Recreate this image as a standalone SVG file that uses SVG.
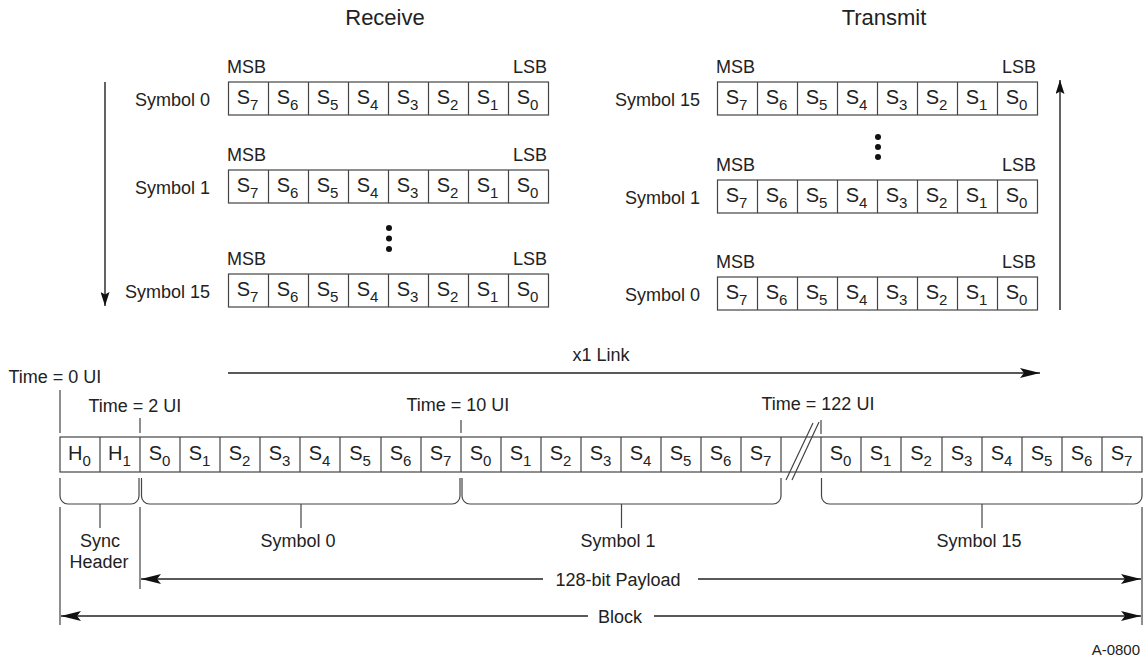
<svg xmlns="http://www.w3.org/2000/svg" width="1148" height="661" viewBox="0 0 1148 661">
<style>
text{font-family:"Liberation Sans",Arial,Helvetica,sans-serif;font-size:18px;fill:#222}
.t{font-size:22px;text-anchor:middle}
.c{font-size:20px;text-anchor:middle}
.sub{font-size:15px}
.m{text-anchor:middle}
.e{text-anchor:end}
.sm{font-size:15px}
.box{fill:#fff;stroke:#444;stroke-width:1.2}
.ln{stroke:#444;stroke-width:1.2;fill:none}
.ar{stroke:#222;stroke-width:1.4;fill:none}
</style>
<defs>
<marker id="ah" viewBox="0 0 20 10" refX="20" refY="5" markerWidth="20" markerHeight="10" markerUnits="userSpaceOnUse" orient="auto-start-reverse">
<path d="M0,0 L20,5 L0,10 L4,5 Z" fill="#111"/>
</marker>
<marker id="ahs" viewBox="0 0 14 9" refX="14" refY="4.5" markerWidth="14" markerHeight="9" markerUnits="userSpaceOnUse" orient="auto-start-reverse">
<path d="M0,0 L14,4.5 L0,9 L2.5,4.5 Z" fill="#111"/>
</marker>
</defs>

<g id="titles">
<text class="t" x="385" y="25">Receive</text>
<text class="t" x="884" y="25">Transmit</text>
</g>

<g id="rx-sym0">
<text class="e" x="210" y="106">Symbol 0</text>
<text x="227" y="73">MSB</text>
<text class="e" x="547" y="73">LSB</text>
<g transform="translate(228.5,82)">
<rect class="box" width="320" height="33"/>
<path class="ln" d="M40,0v33M80,0v33M120,0v33M160,0v33M200,0v33M240,0v33M280,0v33"/>
<text class="c" x="19" y="22">S<tspan class="sub" dy="6">7</tspan></text>
<text class="c" x="59" y="22">S<tspan class="sub" dy="6">6</tspan></text>
<text class="c" x="99" y="22">S<tspan class="sub" dy="6">5</tspan></text>
<text class="c" x="139" y="22">S<tspan class="sub" dy="6">4</tspan></text>
<text class="c" x="179" y="22">S<tspan class="sub" dy="6">3</tspan></text>
<text class="c" x="219" y="22">S<tspan class="sub" dy="6">2</tspan></text>
<text class="c" x="259" y="22">S<tspan class="sub" dy="6">1</tspan></text>
<text class="c" x="299" y="22">S<tspan class="sub" dy="6">0</tspan></text>
</g>
</g>

<g id="rx-sym1">
<text class="e" x="210" y="194">Symbol 1</text>
<text x="227" y="161">MSB</text>
<text class="e" x="547" y="161">LSB</text>
<g transform="translate(228.5,170)">
<rect class="box" width="320" height="33"/>
<path class="ln" d="M40,0v33M80,0v33M120,0v33M160,0v33M200,0v33M240,0v33M280,0v33"/>
<text class="c" x="19" y="22">S<tspan class="sub" dy="6">7</tspan></text>
<text class="c" x="59" y="22">S<tspan class="sub" dy="6">6</tspan></text>
<text class="c" x="99" y="22">S<tspan class="sub" dy="6">5</tspan></text>
<text class="c" x="139" y="22">S<tspan class="sub" dy="6">4</tspan></text>
<text class="c" x="179" y="22">S<tspan class="sub" dy="6">3</tspan></text>
<text class="c" x="219" y="22">S<tspan class="sub" dy="6">2</tspan></text>
<text class="c" x="259" y="22">S<tspan class="sub" dy="6">1</tspan></text>
<text class="c" x="299" y="22">S<tspan class="sub" dy="6">0</tspan></text>
</g>
</g>

<g id="rx-dots" fill="#111">
<circle cx="389" cy="228" r="3"/>
<circle cx="389" cy="238.5" r="3"/>
<circle cx="389" cy="249" r="3"/>
</g>

<g id="rx-sym15">
<text class="e" x="210" y="298">Symbol 15</text>
<text x="227" y="265">MSB</text>
<text class="e" x="547" y="265">LSB</text>
<g transform="translate(228.5,274)">
<rect class="box" width="320" height="33"/>
<path class="ln" d="M40,0v33M80,0v33M120,0v33M160,0v33M200,0v33M240,0v33M280,0v33"/>
<text class="c" x="19" y="22">S<tspan class="sub" dy="6">7</tspan></text>
<text class="c" x="59" y="22">S<tspan class="sub" dy="6">6</tspan></text>
<text class="c" x="99" y="22">S<tspan class="sub" dy="6">5</tspan></text>
<text class="c" x="139" y="22">S<tspan class="sub" dy="6">4</tspan></text>
<text class="c" x="179" y="22">S<tspan class="sub" dy="6">3</tspan></text>
<text class="c" x="219" y="22">S<tspan class="sub" dy="6">2</tspan></text>
<text class="c" x="259" y="22">S<tspan class="sub" dy="6">1</tspan></text>
<text class="c" x="299" y="22">S<tspan class="sub" dy="6">0</tspan></text>
</g>
</g>

<g id="tx-sym15">
<text class="e" x="700" y="106">Symbol 15</text>
<text x="716" y="73">MSB</text>
<text class="e" x="1036" y="73">LSB</text>
<g transform="translate(717.5,82)">
<rect class="box" width="320" height="33"/>
<path class="ln" d="M40,0v33M80,0v33M120,0v33M160,0v33M200,0v33M240,0v33M280,0v33"/>
<text class="c" x="19" y="22">S<tspan class="sub" dy="6">7</tspan></text>
<text class="c" x="59" y="22">S<tspan class="sub" dy="6">6</tspan></text>
<text class="c" x="99" y="22">S<tspan class="sub" dy="6">5</tspan></text>
<text class="c" x="139" y="22">S<tspan class="sub" dy="6">4</tspan></text>
<text class="c" x="179" y="22">S<tspan class="sub" dy="6">3</tspan></text>
<text class="c" x="219" y="22">S<tspan class="sub" dy="6">2</tspan></text>
<text class="c" x="259" y="22">S<tspan class="sub" dy="6">1</tspan></text>
<text class="c" x="299" y="22">S<tspan class="sub" dy="6">0</tspan></text>
</g>
</g>

<g id="tx-dots" fill="#111">
<circle cx="878" cy="137" r="3"/>
<circle cx="878" cy="147" r="3"/>
<circle cx="878" cy="157" r="3"/>
</g>

<g id="tx-sym1">
<text class="e" x="700" y="204">Symbol 1</text>
<text x="716" y="171">MSB</text>
<text class="e" x="1036" y="171">LSB</text>
<g transform="translate(717.5,180)">
<rect class="box" width="320" height="33"/>
<path class="ln" d="M40,0v33M80,0v33M120,0v33M160,0v33M200,0v33M240,0v33M280,0v33"/>
<text class="c" x="19" y="22">S<tspan class="sub" dy="6">7</tspan></text>
<text class="c" x="59" y="22">S<tspan class="sub" dy="6">6</tspan></text>
<text class="c" x="99" y="22">S<tspan class="sub" dy="6">5</tspan></text>
<text class="c" x="139" y="22">S<tspan class="sub" dy="6">4</tspan></text>
<text class="c" x="179" y="22">S<tspan class="sub" dy="6">3</tspan></text>
<text class="c" x="219" y="22">S<tspan class="sub" dy="6">2</tspan></text>
<text class="c" x="259" y="22">S<tspan class="sub" dy="6">1</tspan></text>
<text class="c" x="299" y="22">S<tspan class="sub" dy="6">0</tspan></text>
</g>
</g>

<g id="tx-sym0">
<text class="e" x="700" y="301">Symbol 0</text>
<text x="716" y="268">MSB</text>
<text class="e" x="1036" y="268">LSB</text>
<g transform="translate(717.5,277)">
<rect class="box" width="320" height="33"/>
<path class="ln" d="M40,0v33M80,0v33M120,0v33M160,0v33M200,0v33M240,0v33M280,0v33"/>
<text class="c" x="19" y="22">S<tspan class="sub" dy="6">7</tspan></text>
<text class="c" x="59" y="22">S<tspan class="sub" dy="6">6</tspan></text>
<text class="c" x="99" y="22">S<tspan class="sub" dy="6">5</tspan></text>
<text class="c" x="139" y="22">S<tspan class="sub" dy="6">4</tspan></text>
<text class="c" x="179" y="22">S<tspan class="sub" dy="6">3</tspan></text>
<text class="c" x="219" y="22">S<tspan class="sub" dy="6">2</tspan></text>
<text class="c" x="259" y="22">S<tspan class="sub" dy="6">1</tspan></text>
<text class="c" x="299" y="22">S<tspan class="sub" dy="6">0</tspan></text>
</g>
</g>

<g id="link-label">
<text class="m" x="601" y="361">x1 Link</text>
</g>

<g id="time-markers">
<text x="8.5" y="383">Time = 0 UI</text>
<text x="88.5" y="412">Time = 2 UI</text>
<text x="406.5" y="411">Time = 10 UI</text>
<text x="761.5" y="410">Time = 122 UI</text>
<path class="ln" d="M60,390V433M140,418V433M461,420V433M821,420V434"/>
</g>

<g id="block-bar">
<rect class="box" x="60" y="437" width="1082" height="35"/>
<path class="ln" d="M100,437v35M140,437v35M180,437v35M220,437v35M260,437v35M300,437v35M340,437v35M381,437v35M421,437v35M461,437v35M501,437v35M541,437v35M581,437v35M621,437v35M661,437v35M701,437v35M741,437v35M781,437v35M821,437v35M861,437v35M901,437v35M942,437v35M982,437v35M1022,437v35M1062,437v35M1102,437v35"/>
<path class="ln" d="M786,480L813,423M792,480L819,422"/>
<text class="c" x="79.5" y="460">H<tspan class="sub" dy="6">0</tspan></text>
<text class="c" x="119.5" y="460">H<tspan class="sub" dy="6">1</tspan></text>
<text class="c" x="159.5" y="460">S<tspan class="sub" dy="6">0</tspan></text>
<text class="c" x="199.5" y="460">S<tspan class="sub" dy="6">1</tspan></text>
<text class="c" x="239.5" y="460">S<tspan class="sub" dy="6">2</tspan></text>
<text class="c" x="279.5" y="460">S<tspan class="sub" dy="6">3</tspan></text>
<text class="c" x="319.5" y="460">S<tspan class="sub" dy="6">4</tspan></text>
<text class="c" x="360" y="460">S<tspan class="sub" dy="6">5</tspan></text>
<text class="c" x="400.5" y="460">S<tspan class="sub" dy="6">6</tspan></text>
<text class="c" x="440.5" y="460">S<tspan class="sub" dy="6">7</tspan></text>
<text class="c" x="480.5" y="460">S<tspan class="sub" dy="6">0</tspan></text>
<text class="c" x="520.5" y="460">S<tspan class="sub" dy="6">1</tspan></text>
<text class="c" x="560.5" y="460">S<tspan class="sub" dy="6">2</tspan></text>
<text class="c" x="600.5" y="460">S<tspan class="sub" dy="6">3</tspan></text>
<text class="c" x="640.5" y="460">S<tspan class="sub" dy="6">4</tspan></text>
<text class="c" x="680.5" y="460">S<tspan class="sub" dy="6">5</tspan></text>
<text class="c" x="720.5" y="460">S<tspan class="sub" dy="6">6</tspan></text>
<text class="c" x="760.5" y="460">S<tspan class="sub" dy="6">7</tspan></text>
<text class="c" x="840.5" y="460">S<tspan class="sub" dy="6">0</tspan></text>
<text class="c" x="880.5" y="460">S<tspan class="sub" dy="6">1</tspan></text>
<text class="c" x="921" y="460">S<tspan class="sub" dy="6">2</tspan></text>
<text class="c" x="961.5" y="460">S<tspan class="sub" dy="6">3</tspan></text>
<text class="c" x="1001.5" y="460">S<tspan class="sub" dy="6">4</tspan></text>
<text class="c" x="1041.5" y="460">S<tspan class="sub" dy="6">5</tspan></text>
<text class="c" x="1081.5" y="460">S<tspan class="sub" dy="6">6</tspan></text>
<text class="c" x="1121.5" y="460">S<tspan class="sub" dy="6">7</tspan></text>
</g>

<g id="brace-sync">
<path class="ln" d="M60,478V496A8,8 0 0 0 68,504H131A8,8 0 0 0 139,496V478M100,504V528"/>
<text class="m" x="100" y="547">Sync</text>
<text class="m" x="99" y="568">Header</text>
</g>
<g id="brace-symbol0">
<path class="ln" d="M141.5,478V496A8,8 0 0 0 149.5,504H452A8,8 0 0 0 460,496V478M301,504V528"/>
<text class="m" x="298" y="547">Symbol 0</text>
</g>
<g id="brace-symbol1">
<path class="ln" d="M462,478V496A8,8 0 0 0 470,504H773A8,8 0 0 0 781,496V478M621.5,504V528"/>
<text class="m" x="618" y="547">Symbol 1</text>
</g>
<g id="brace-symbol15">
<path class="ln" d="M821.5,478V496A8,8 0 0 0 829.5,504H1134A8,8 0 0 0 1142,496V478M982,504V528"/>
<text class="m" x="979" y="547">Symbol 15</text>
</g>

<g id="span-labels">
<path class="ln" d="M60,507V625M140,507V589M1142,507V625"/>
<text class="m" x="618" y="586">128-bit Payload</text>
<text class="m" x="620" y="623">Block</text>
<text class="e sm" x="1140" y="655">A-0800</text>
</g>

<g id="connectors">
<line class="ar" x1="105" y1="82" x2="105" y2="306" marker-end="url(#ahs)"/>
<line class="ar" x1="1060" y1="310" x2="1060" y2="80" marker-end="url(#ahs)"/>
<line class="ar" x1="228" y1="373" x2="1040" y2="373" marker-end="url(#ah)"/>
<line class="ar" x1="141" y1="579" x2="543" y2="579" marker-start="url(#ah)"/>
<line class="ar" x1="698" y1="579" x2="1141" y2="579" marker-end="url(#ah)"/>
<line class="ar" x1="61" y1="616" x2="588" y2="616" marker-start="url(#ah)"/>
<line class="ar" x1="654" y1="616" x2="1141" y2="616" marker-end="url(#ah)"/>
</g>
</svg>
